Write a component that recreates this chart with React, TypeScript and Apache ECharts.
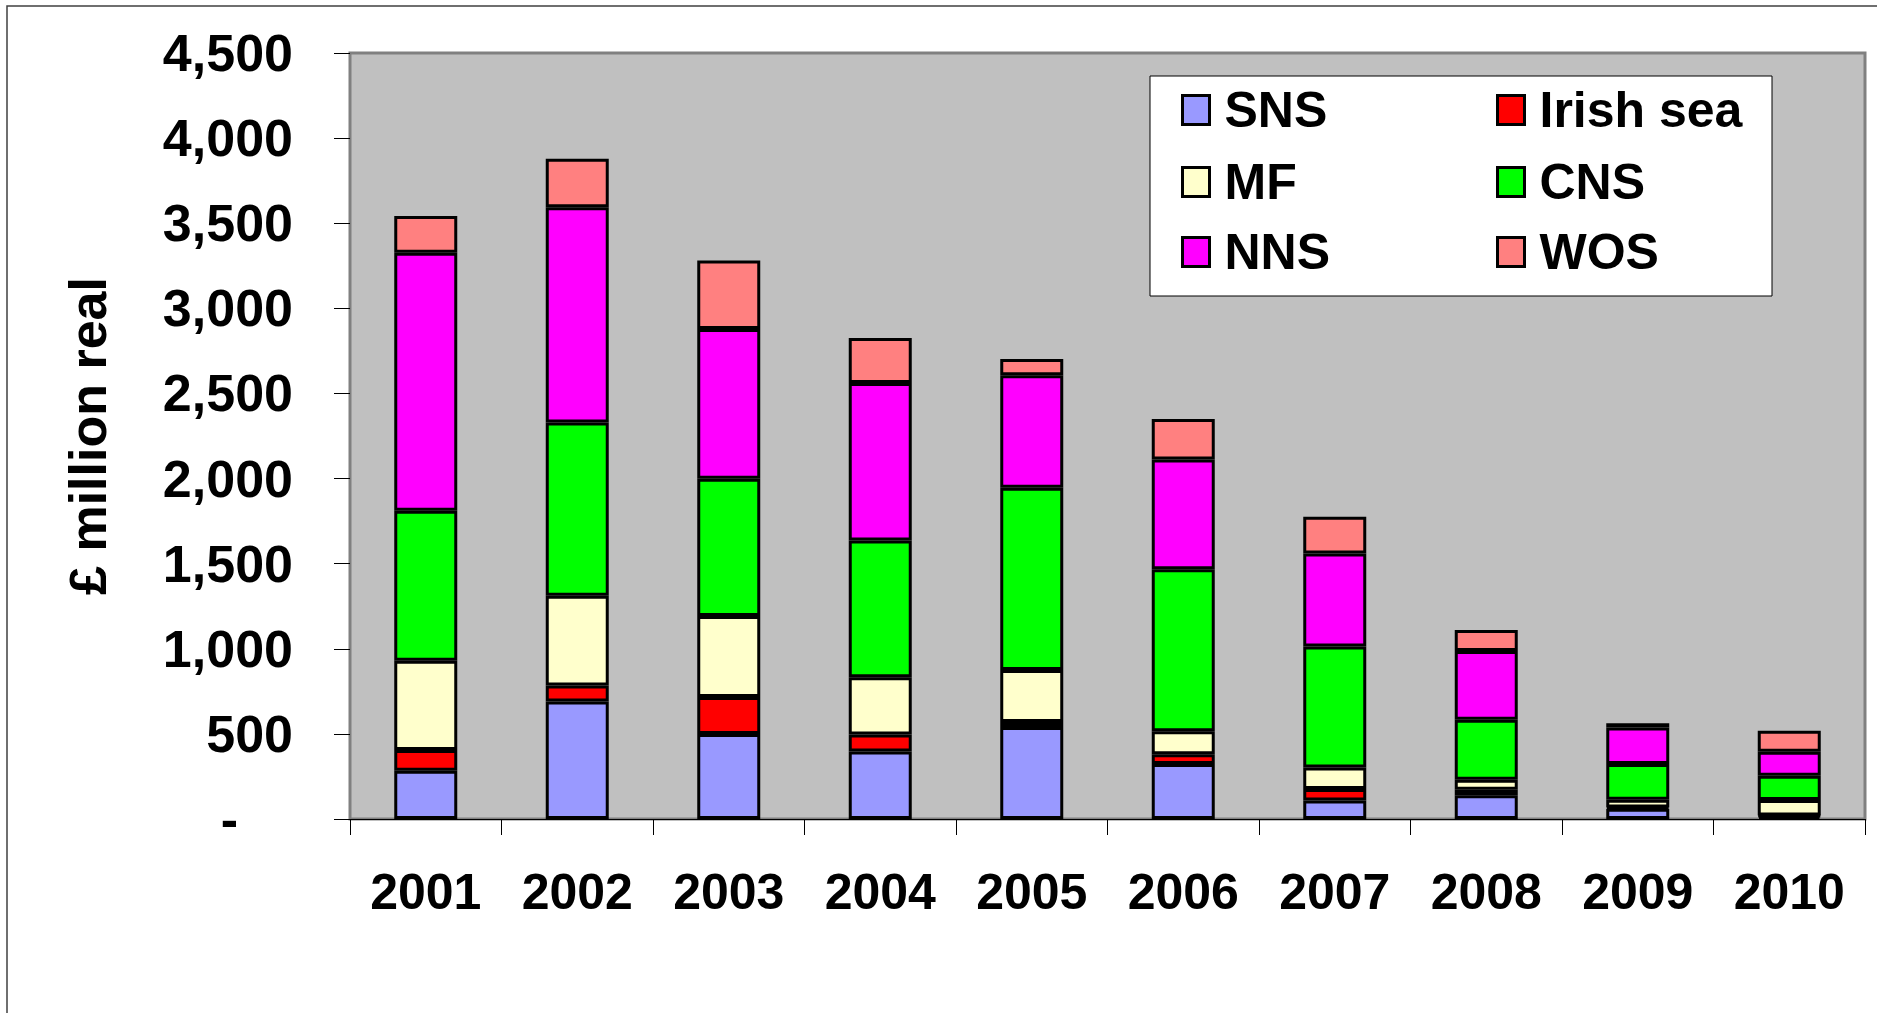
import React, { useEffect, useRef } from "react";
import * as echarts from "echarts";

const years = ["2001", "2002", "2003", "2004", "2005", "2006", "2007", "2008", "2009", "2010"];
const sns = [283, 690, 499, 397, 540, 323, 108, 140, 60, 15];
const irishSea = [122, 94, 217, 99, 30, 58, 68, 32, 8, 5];
const mf = [525, 528, 476, 337, 306, 135, 127, 59, 45, 91];
const cns = [881, 1018, 807, 803, 1070, 951, 710, 352, 210, 143];
const nns = [1515, 1264, 879, 926, 661, 645, 547, 404, 215, 141];
const wos = [217, 285, 403, 264, 95, 238, 215, 123, 25, 123];

const seriesNames = ["SNS", "Irish sea", "MF", "CNS", "NNS", "WOS"];
const seriesData = [sns, irishSea, mf, cns, nns, wos];
const seriesColors = ["#9999FF", "#FF0000", "#FFFFCC", "#00FF00", "#FF00FF", "#FF8080"];

const FONT = "'Liberation Sans', Arial, sans-serif";

export default function App() {
  const ref = useRef<HTMLDivElement>(null);

  useEffect(() => {
    if (!ref.current) return;
    const chart = echarts.init(ref.current, null, { renderer: "svg" });

    const legendPos = [
      { left: 1181, top: 85 },
      { left: 1496, top: 85 },
      { left: 1181, top: 157 },
      { left: 1496, top: 157 },
      { left: 1181, top: 227 },
      { left: 1496, top: 227 },
    ];

    const legends = seriesNames.map((name, i) => ({
      data: [{ name, icon: "rect" }],
      left: legendPos[i].left,
      top: legendPos[i].top,
      padding: 0,
      itemWidth: 27,
      itemHeight: 29,
      z: 10,
      itemStyle: { borderColor: "#000", borderWidth: 3 },
      textStyle: {
        fontFamily: FONT,
        fontSize: 50,
        fontWeight: "bold",
        color: "#000",
        padding: [0, 0, 0, 10],
      },
      selectedMode: false,
    }));

    const option: any = {
      animation: false,
      backgroundColor: "#FFFFFF",
      textStyle: { fontFamily: FONT },
      grid: {
        left: 350,
        right: 16,
        top: 53,
        bottom: 194,
        show: true,
        backgroundColor: "#C0C0C0",
        borderColor: "#808080",
        borderWidth: 3,
      },
      legend: legends,
      graphic: [
        {
          type: "polyline",
          z: 1,
          shape: { points: [[7, 1013], [7, 6], [1877, 6]] },
          style: { stroke: "#404040", lineWidth: 1.5, fill: null },
        },
        {
          type: "rect",
          z: 3,
          shape: { x: 1150, y: 76, width: 622, height: 220 },
          style: { fill: "#FFFFFF", stroke: "#000000", lineWidth: 1 },
        },
      ],
      xAxis: {
        type: "category",
        data: years,
        axisLine: { show: true, lineStyle: { color: "#000", width: 1 } },
        axisTick: { show: true, length: 16, alignWithLabel: false, lineStyle: { color: "#000", width: 1 } },
        axisLabel: {
          margin: 48,
          fontSize: 50,
          fontWeight: "bold",
          color: "#000",
          fontFamily: FONT,
        },
        splitLine: { show: false },
      },
      yAxis: {
        type: "value",
        min: 0,
        max: 4500,
        interval: 500,
        axisLine: { show: false },
        axisTick: { show: true, length: 16, inside: false, lineStyle: { color: "#000", width: 1 } },
        splitLine: { show: false },
        axisLabel: {
          margin: 57,
          fontSize: 52,
          fontWeight: "bold",
          color: "#000",
          fontFamily: FONT,
          formatter: (v: number) => (v === 0 ? "{d|-}" : v.toLocaleString("en-US")),
          rich: {
            d: {
              fontSize: 52,
              fontWeight: "bold",
              color: "#000",
              fontFamily: FONT,
              padding: [0, 55, 0, 0],
            },
          },
        },
        name: "£ million real",
        nameLocation: "middle",
        nameGap: 236,
        nameRotate: 90,
        nameTextStyle: {
          fontSize: 52,
          fontWeight: "bold",
          color: "#000",
          fontFamily: FONT,
        },
      },
      series: seriesNames.map((name, i) => ({
        name,
        type: "bar",
        stack: "total",
        barWidth: 63,
        data: seriesData[i],
        itemStyle: {
          color: seriesColors[i],
          borderColor: "#000",
          borderWidth: 3,
        },
        emphasis: { disabled: true },
      })),
    };

    chart.setOption(option);
    return () => chart.dispose();
  }, []);

  return (
    <div
      ref={ref}
      style={{ position: "absolute", left: 0, top: 0, width: 1881, height: 1013 }}
    />
  );
}
